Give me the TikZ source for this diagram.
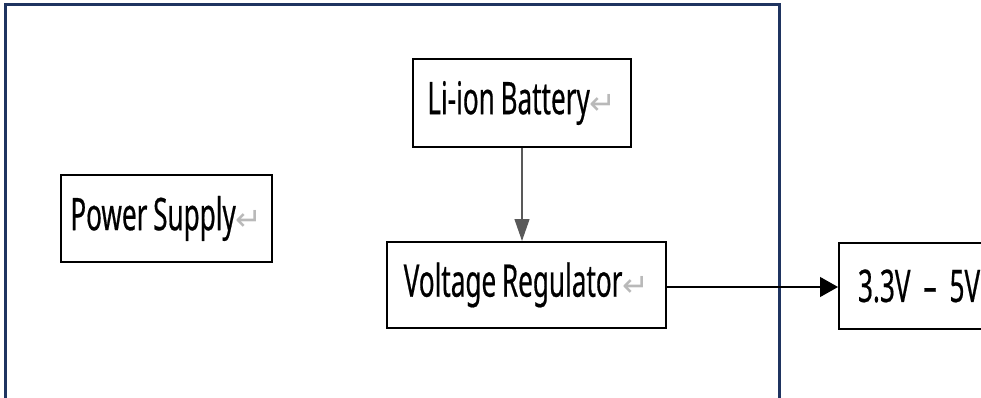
\documentclass[tikz,border=0pt]{standalone}
\usepackage{fontspec}
\newfontfamily\boxfont{Noto Sans}[FakeStretch=0.58, FakeBold=0.4, WordSpace=0.85]
\newfontfamily\markfont{DejaVu Sans}
\usetikzlibrary{positioning, arrows.meta, calc}
\definecolor{framenavy}{RGB}{31,52,96}
\newcommand{\parmark}{\textcolor{gray!55}{\markfont\fontsize{32}{32}\selectfont ↵}}

\begin{document}
\begin{tikzpicture}[
  x=1pt, y=-1pt,
  every node/.style={font=\boxfont\fontsize{45}{50}\selectfont},
  blk/.style   = {draw=black, line width=2pt, inner sep=0pt, align=center},
  frame/.style = {draw=framenavy, line width=3pt},
  arr/.style   = {-{Triangle[length=22pt, width=15pt]}, line width=1.2pt, gray!70!black},
  arrh/.style  = {-{Triangle[length=18pt, width=20pt]}, line width=1.3pt, black},
]
  \useasboundingbox (0,0) rectangle (981,398);
  % outer frame, open at the bottom
  \draw[frame] (5,410) -- (5,5) -- (779,5) -- (779,410);

  \node[blk, minimum width=218pt, minimum height=88pt] (bat) at (522,103)   {Li-ion Battery\parmark};
  \node[blk, minimum width=211pt, minimum height=87pt] (ps)  at (166.5,218.5) {Power Supply\parmark};
  \node[blk, minimum width=279pt, minimum height=86pt] (vr)  at (526.5,285) {Voltage Regulator\parmark};
  \node[blk, anchor=west, minimum height=86pt, text width=200pt, align=left, inner xsep=19pt] (out) at (838,286) {3.3V\kern-2pt{} –\kern-2pt{} 5V\parmark};

  \draw[arr]  (bat.south) -- (bat.south |- vr.north);
  \draw[arrh] (vr.east |- 0,287) -- (out.west |- 0,287);
\end{tikzpicture}
\end{document}
